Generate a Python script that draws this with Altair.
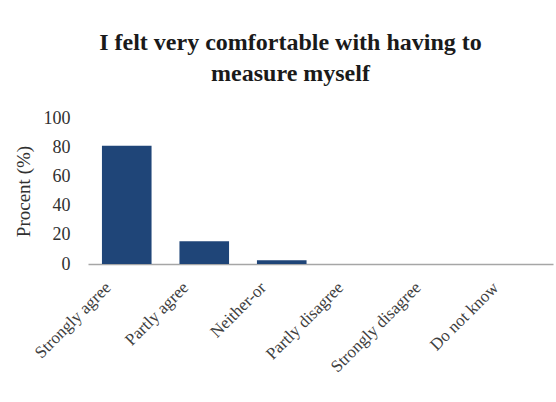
import altair as alt
import pandas as pd

categories = ["Strongly agree", "Partly agree", "Neither-or", "Partly disagree", "Strongly disagree", "Do not know"]
percent = [81, 15.5, 2.5, 0, 0, 0]

df = pd.DataFrame({"category": categories, "percent": percent})

FONT = "Liberation Serif"

chart = alt.Chart(df).mark_bar(color="#1f4578").encode(
    x=alt.X("category:N", sort=categories,
            scale=alt.Scale(paddingInner=0.36, paddingOuter=0.18),
            axis=alt.Axis(title=None, labelAngle=-45, labelAlign="right", labelBaseline="top",
                          labelFont=FONT, labelFontSize=17, labelColor="#404040",
                          ticks=False, domainColor="#a6a6a6", domainWidth=1.5,
                          labelPadding=15, labelOffset=-24)),
    y=alt.Y("percent:Q", scale=alt.Scale(domain=[0, 100]),
            axis=alt.Axis(title="Procent (%)", values=[0, 20, 40, 60, 80, 100], grid=False,
                          domain=False, ticks=False, labelFont=FONT, labelFontSize=18,
                          labelColor="#303030", labelPadding=18, titleFont=FONT,
                          titleFontSize=19, titleFontWeight="normal", titleColor="#303030",
                          titlePadding=10)),
).properties(
    width=465, height=146,
    title=alt.TitleParams(["I felt very comfortable with having to", "measure myself"],
                          font=FONT, fontSize=24, fontWeight="bold", color="#1a1a1a",
                          lineHeight=31, anchor="middle", frame="group", dx=-30, offset=23),
    padding={"left": 88, "top": 118, "right": 3, "bottom": 138},
    autosize=alt.AutoSizeParams(type="none"),
).configure_view(stroke=None)

chart.save("out.html", embed_options={"renderer": "svg", "actions": False})
